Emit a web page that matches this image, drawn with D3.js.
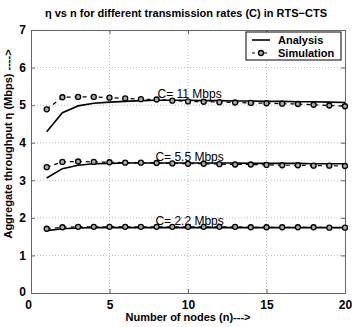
<!DOCTYPE html>
<html>
<head>
<meta charset="utf-8">
<script src="https://cdn.jsdelivr.net/npm/d3@7"></script>
<style>
body { margin: 0; background: #fff; }
text { font-family: "Liberation Sans", Arial, sans-serif; fill: #000; }
</style>
</head>
<body>
<svg id="chart" width="354" height="327"></svg>
<script>
const nodes = d3.range(1, 21)
const xTicks = [0, 5, 10, 15, 20]
const yTicks = [0, 1, 2, 3, 4, 5, 6, 7]

// analysis curves
const ana11 = [4.29, 4.8, 4.98, 5.05, 5.08, 5.1, 5.12, 5.13, 5.13, 5.13, 5.12, 5.12, 5.11, 5.11, 5.1, 5.1, 5.09, 5.09, 5.08, 5.07]
const ana55 = [3.06, 3.31, 3.4, 3.44, 3.45, 3.46, 3.46, 3.46, 3.46, 3.46, 3.46, 3.46, 3.46, 3.45, 3.45, 3.45, 3.45, 3.44, 3.44, 3.44]
const ana22 = [1.66, 1.71, 1.73, 1.74, 1.74, 1.74, 1.74, 1.74, 1.74, 1.74, 1.74, 1.74, 1.74, 1.74, 1.74, 1.74, 1.74, 1.74, 1.74, 1.74]
// simulation points
const sim11 = [4.89, 5.21, 5.22, 5.22, 5.2, 5.18, 5.16, 5.15, 5.12, 5.1, 5.09, 5.08, 5.07, 5.06, 5.05, 5.04, 5.03, 5.01, 4.99, 4.97]
const sim55 = [3.35, 3.49, 3.5, 3.49, 3.48, 3.47, 3.47, 3.46, 3.45, 3.44, 3.44, 3.43, 3.42, 3.42, 3.41, 3.4, 3.4, 3.39, 3.39, 3.38]
const sim22 = [1.71, 1.75, 1.76, 1.76, 1.76, 1.76, 1.76, 1.76, 1.76, 1.76, 1.76, 1.76, 1.76, 1.75, 1.75, 1.75, 1.75, 1.75, 1.74, 1.74]

const rateLabels = [
  {text: 'C= 11 Mbps', n: 10.1, v: 5.2},
  {text: 'C= 5.5 Mbps', n: 10.1, v: 3.51},
  {text: 'C= 2.2 Mbps', n: 10.1, v: 1.8}
]

const x = d3.scaleLinear([0, 20], [31, 345])
const y = d3.scaleLinear([0, 7], [293, 30])
const svg = d3.select('#chart')

// grid
svg.append('g').selectAll('line').data(xTicks.slice(1, -1)).join('line')
  .attr('x1', d => x(d)).attr('x2', d => x(d)).attr('y1', y(0)).attr('y2', y(7))
  .attr('stroke', '#bbb').attr('stroke-dasharray', '1,2')
svg.append('g').selectAll('line').data(yTicks.slice(1, -1)).join('line')
  .attr('x1', x(0)).attr('x2', x(20)).attr('y1', d => y(d)).attr('y2', d => y(d))
  .attr('stroke', '#bbb').attr('stroke-dasharray', '1,2')

// axes
const fmt = d3.format('d')
const xAxis = svg.append('g').attr('transform', `translate(0,${y(0)})`)
  .call(d3.axisBottom(x).tickValues(xTicks).tickFormat(fmt).tickSize(-4).tickPadding(7))
const yAxis = svg.append('g').attr('transform', `translate(${x(0)},0)`)
  .call(d3.axisLeft(y).tickValues(yTicks).tickFormat(fmt).tickSize(-4).tickPadding(5))
svg.append('g').attr('transform', `translate(0,${y(7)})`)
  .call(d3.axisTop(x).tickValues(xTicks).tickSize(-4).tickFormat(''))
svg.append('g').attr('transform', `translate(${x(20)},0)`)
  .call(d3.axisRight(y).tickValues(yTicks).tickSize(-4).tickFormat(''))
svg.selectAll('.domain, .tick line').attr('stroke', '#666')
svg.selectAll('.tick text').attr('font-size', 12).attr('font-family', '"Liberation Sans", Arial, sans-serif').style('font-weight', 'bold')
xAxis.selectAll('.tick').filter(d => d === 0).select('text').attr('dx', -3)
yAxis.selectAll('.tick').filter(d => d === 0).select('text').attr('dy', '0.2em')

const line = d3.line().x((d, i) => x(nodes[i])).y(d => y(d))

const analysis = [ana11, ana55, ana22]
const simulation = [sim11, sim55, sim22]

svg.append('g').selectAll('path').data(analysis).join('path')
  .attr('d', line).attr('fill', 'none').attr('stroke', '#000').attr('stroke-width', 1.6)

svg.append('g').selectAll('path').data(simulation).join('path')
  .attr('d', line).attr('fill', 'none').attr('stroke', '#000').attr('stroke-width', 1.2)
  .attr('stroke-dasharray', '4,4')

simulation.forEach(s => {
  svg.append('g').selectAll('circle').data(s).join('circle')
    .attr('cx', (d, i) => x(nodes[i])).attr('cy', d => y(d)).attr('r', 2.5)
    .attr('fill', '#aaa').attr('stroke', '#000').attr('stroke-width', 1.3)
})

svg.append('g').selectAll('text').data(rateLabels).join('text')
  .attr('x', d => x(d.n)).attr('y', d => y(d.v)).attr('text-anchor', 'middle')
  .attr('font-size', 12).style('font-weight', 500).text(d => d.text)

// legend
const lg = svg.append('g')
lg.append('rect').attr('x', 246).attr('y', 32).attr('width', 95).attr('height', 28)
  .attr('fill', '#fff').attr('stroke', '#000').attr('stroke-width', 1)
lg.append('line').attr('x1', 252).attr('x2', 270).attr('y1', 40).attr('y2', 40)
  .attr('stroke', '#000').attr('stroke-width', 1.6)
lg.append('line').attr('x1', 252).attr('x2', 270).attr('y1', 53).attr('y2', 53)
  .attr('stroke', '#000').attr('stroke-width', 1.2).attr('stroke-dasharray', '3,3')
lg.append('circle').attr('cx', 261).attr('cy', 53).attr('r', 2.5)
  .attr('fill', '#aaa').attr('stroke', '#000').attr('stroke-width', 1.3)
lg.append('text').attr('x', 278).attr('y', 44).attr('font-size', 11).style('font-weight', 'bold').text('Analysis')
lg.append('text').attr('x', 278).attr('y', 57).attr('font-size', 11).style('font-weight', 'bold').text('Simulation')

// titles
svg.append('text').attr('x', 186).attr('y', 17).attr('text-anchor', 'middle')
  .attr('font-size', 11).style('font-weight', 'bold').text('η vs n for different transmission rates (C) in RTS−CTS')
svg.append('text').attr('x', 188).attr('y', 321).attr('text-anchor', 'middle')
  .attr('font-size', 11).style('font-weight', 'bold').text('Number of nodes (n)--->')
svg.append('text').attr('transform', 'translate(12,144) rotate(-90)').attr('text-anchor', 'middle')
  .attr('font-size', 11).style('font-weight', 'bold').text('Aggregate throughput η  (Mbps) ---->')
</script>
</body>
</html>
